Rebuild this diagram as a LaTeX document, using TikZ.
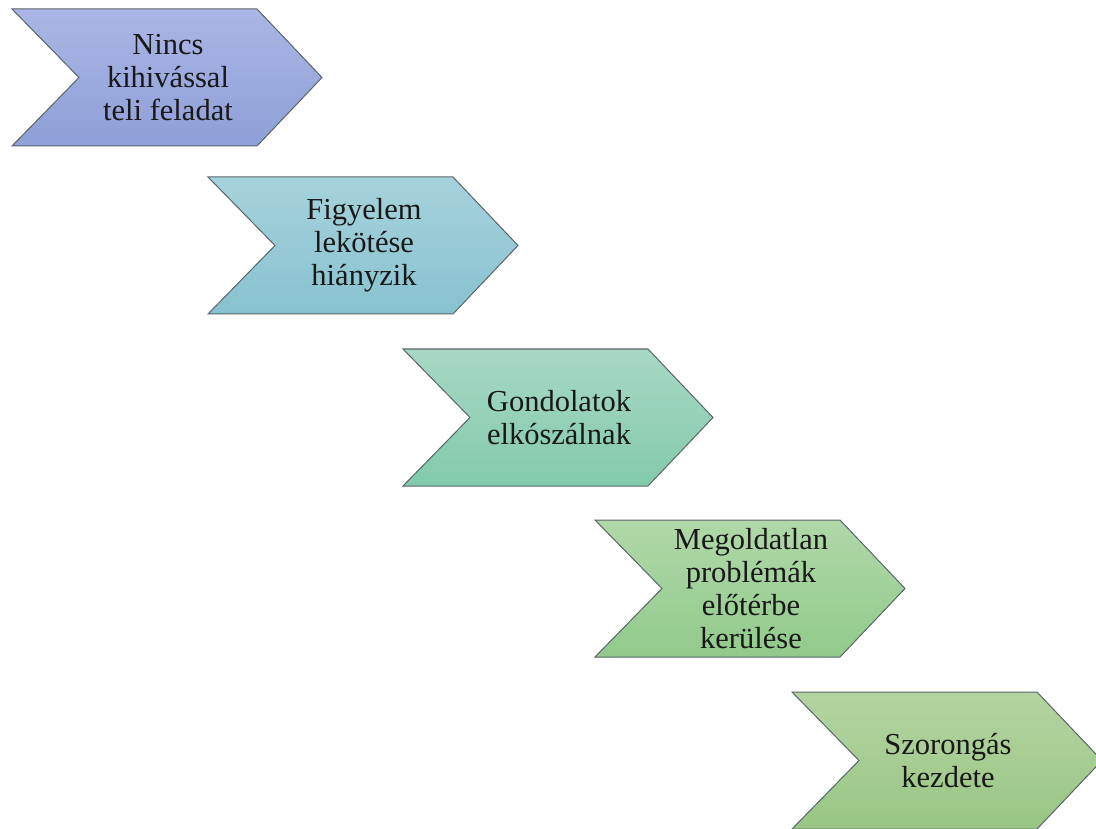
\documentclass[tikz,border=0pt]{standalone}
\usepackage{fontspec}
\setmainfont{Liberation Serif}

\definecolor{chevline}{RGB}{90,100,105}
\definecolor{oneTop}{RGB}{170,182,228}
\definecolor{oneBot}{RGB}{142,160,216}
\definecolor{twoTop}{RGB}{166,210,220}
\definecolor{twoBot}{RGB}{136,194,208}
\definecolor{threeTop}{RGB}{168,216,196}
\definecolor{threeBot}{RGB}{130,202,172}
\definecolor{fourTop}{RGB}{176,216,168}
\definecolor{fourBot}{RGB}{146,202,140}
\definecolor{fiveTop}{RGB}{180,212,162}
\definecolor{fiveBot}{RGB}{152,198,132}

\begin{document}
\begin{tikzpicture}[x=1pt,y=-1pt,
  chevron/.style={draw=chevline, line width=1pt},
  steplabel/.style={align=center, inner sep=0pt, text=black!90,
    font=\fontsize{30.5}{33}\selectfont}]
\clip (0,0) rectangle (1096,829);
\fill[white] (0,0) rectangle (1096,829);

% chevrons, stepping down to the right
\foreach \i/\x/\y/\ctop/\cbot/\txt in {
  1/12/9/oneTop/oneBot/{Nincs\\kihivással\\teli feladat},
  2/208/177/twoTop/twoBot/{Figyelem\\lekötése\\hiányzik},
  3/403/349/threeTop/threeBot/{Gondolatok\\elkószálnak},
  4/595/520/fourTop/fourBot/{Megoldatlan\\problémák\\előtérbe\\kerülése},
  5/792/692/fiveTop/fiveBot/{Szorongás\\kezdete}}{
  \shade[chevron, top color=\ctop, bottom color=\cbot]
    (\x,\y) -- ++(245,0) -- ++(65,68.5) -- ++(-65,68.5)
    -- ++(-245,0) -- ++(67,-68.5) -- cycle;
  \node[steplabel] (n\i) at (\x+156,\y+68.5) {\txt};
}
\end{tikzpicture}
\end{document}
